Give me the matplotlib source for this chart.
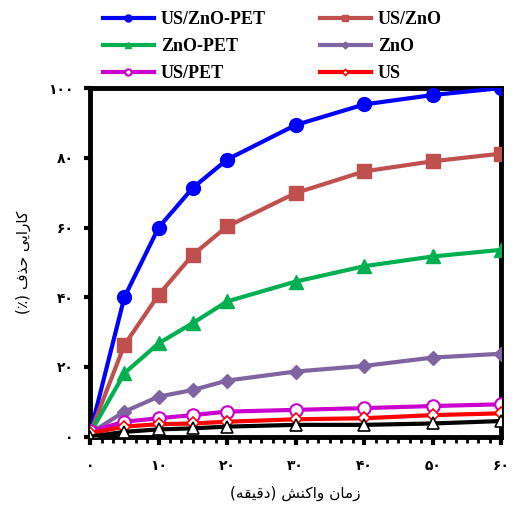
import matplotlib.pyplot as plt
from matplotlib.ticker import MultipleLocator

# reaction time (min) and removal efficiency (%)
time_min = [0, 5, 10, 15, 20, 30, 40, 50, 60]
us_zno_pet = [1, 40, 60, 71.4, 79.5, 89.4, 95.3, 98, 100]
us_zno = [1, 26.3, 40.7, 52.2, 60.3, 69.9, 76.1, 79, 81.2]
zno_pet = [1, 18.2, 26.8, 32.6, 38.8, 44.5, 48.9, 51.7, 53.6]
zno = [1, 7.2, 11.5, 13.4, 16.1, 18.7, 20.3, 22.7, 23.8]
us_pet = [1.5, 4.3, 5.3, 6.2, 7.2, 7.7, 8.2, 8.8, 9.3]
us = [1, 2.9, 3.6, 3.8, 4.3, 5.0, 5.3, 6.2, 6.7]
pet = [0, 1.4, 2.1, 2.4, 2.9, 3.4, 3.4, 3.8, 4.5]

# Persian tick labels
x_ticks = [0, 10, 20, 30, 40, 50, 60]
x_labels = ["\u06f0", "\u06f1\u06f0", "\u06f2\u06f0", "\u06f3\u06f0",
            "\u06f4\u06f0", "\u06f5\u06f0", "\u06f6\u06f0"]
y_ticks = [0, 20, 40, 60, 80, 100]
y_labels = ["\u06f0", "\u06f2\u06f0", "\u06f4\u06f0", "\u06f6\u06f0",
            "\u06f8\u06f0", "\u06f1\u06f0\u06f0"]

# axis titles, already shaped and in visual order (matplotlib does no bidi)
x_title = ("(\ufeea\ufed8\ufbff\ufed7\ufea9) "
           "\ufeb6\ufee8\ufb90\ufe8d\ufeed "
           "\ufee5\ufe8e\ufee3\ufeaf")        # زمان واکنش (دقیقه)
y_title = ("(\u066a) \ufed1\ufeac\ufea3 "
           "\ufbfd\ufbfe\ufe8d\ufead\ufe8e\ufb90")  # کارایی حذف (٪)

fig = plt.figure(figsize=(5.27, 5.09), dpi=100)
ax = fig.add_axes([0.171, 0.142, 0.78, 0.685])

l1, = ax.plot(time_min, us_zno_pet, color="#0000ff", lw=3, marker="o", ms=10,
              label="US/ZnO-PET")
l2, = ax.plot(time_min, us_zno, color="#c0504d", lw=3, marker="s", ms=10,
              label="US/ZnO")
l3, = ax.plot(time_min, zno_pet, color="#00b050", lw=3, marker="^", ms=10,
              label="ZnO-PET")
l4, = ax.plot(time_min, zno, color="#8064a2", lw=3, marker="D", ms=7,
              label="ZnO")
l5, = ax.plot(time_min, us_pet, color="#cc00cc", lw=3, marker="o", ms=9,
              mfc="white", mew=1.5, label="US/PET")
l6, = ax.plot(time_min, us, color="#ff0000", lw=3, marker="D", ms=6,
              mfc="white", mew=1.2, label="US")
ax.plot(time_min, pet, color="black", lw=3, marker="^", ms=9,
        mfc="white", mew=1.2)

ax.set_xlim(0, 60)
ax.set_ylim(0, 100)
for s in ax.spines.values():
    s.set_linewidth(3.5)
    s.set_zorder(1)

ax.set_xticks(x_ticks)
ax.set_xticklabels(x_labels, fontsize=10, fontweight="bold", family="DejaVu Sans")
ax.xaxis.set_minor_locator(MultipleLocator(10 / 6))
ax.tick_params(axis="x", which="major", direction="out", length=6, width=3, pad=10)
ax.tick_params(axis="x", which="minor", direction="out", length=4, width=2)
ax.set_yticks(y_ticks)
ax.set_yticklabels(y_labels, fontsize=10, fontweight="bold", family="DejaVu Sans")
ax.tick_params(axis="y", which="major", direction="out", length=4, width=3, pad=8)

ax.set_xlabel(x_title, fontsize=11, family="DejaVu Sans", labelpad=9)
ax.set_ylabel(y_title, fontsize=11, family="DejaVu Sans", labelpad=12)

# row-wise legend order (matplotlib fills columns first)
handles = [l1, l3, l5, l2, l4, l6]
fig.legend(handles=handles, labels=[h.get_label() for h in handles],
           loc="upper left", bbox_to_anchor=(0.165, 1.01), ncol=2,
           frameon=False, handlelength=2.8, columnspacing=3.0,
           labelspacing=0.55, handletextpad=0.4, markerscale=0.5,
           prop={"family": "Liberation Serif", "weight": "bold", "size": 13})

fig.savefig("out.png", dpi=100)
